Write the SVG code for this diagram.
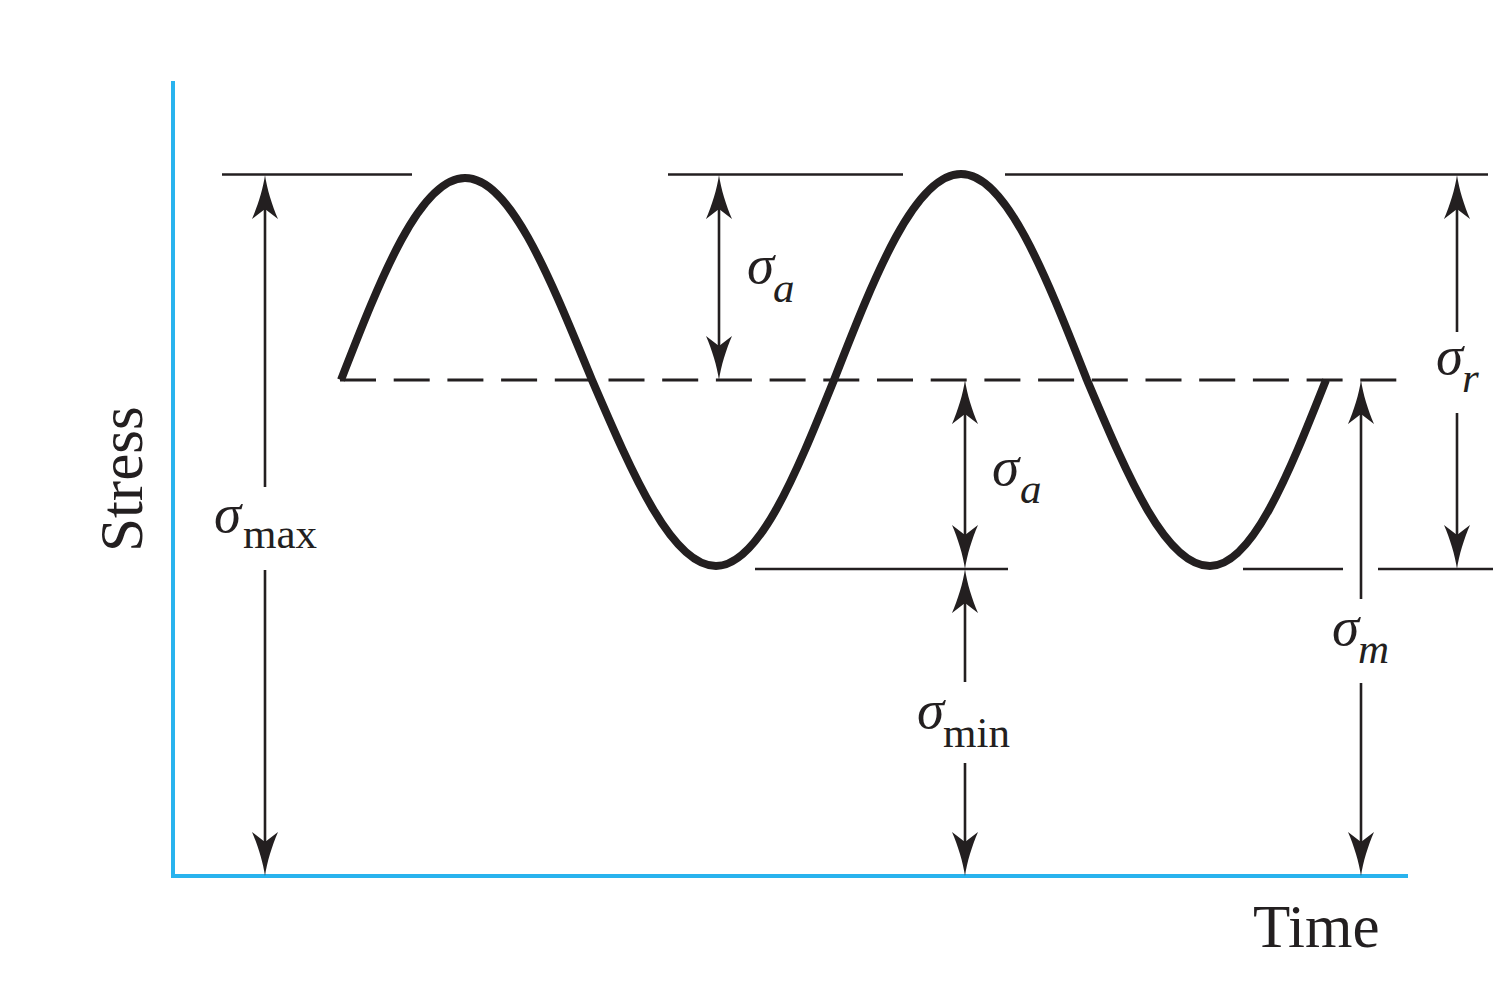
<svg xmlns="http://www.w3.org/2000/svg" xmlns:xlink="http://www.w3.org/1999/xlink" width="1495" height="1000" viewBox="0 0 1495 1000">
<style>
.axis{stroke:#29b3ee;stroke-width:4;fill:none}
.thin{stroke:#231f20;stroke-width:2.6;fill:none}
.dash{stroke:#231f20;stroke-width:3;fill:none;stroke-dasharray:36 17.7}
.wave{stroke:#231f20;stroke-width:8;fill:none;stroke-linecap:butt}
.lbl{font-family:"Liberation Serif","Times New Roman",serif;fill:#231f20}
.sig{font-style:italic;font-size:55px}
.sub{font-size:43px}
.subi{font-size:43px;font-style:italic}
.ax{font-size:61px}
.ah{fill:#231f20}
</style>
<defs>
<path id="ah" class="ah" d="M0,0 C-2,14 -7,30 -13,44 L0,34 L13,44 C7,30 2,14 0,0 Z"/>
</defs>
<rect width="1495" height="1000" fill="#ffffff"/>
<g id="axes">
<line class="axis" x1="173" y1="81" x2="173" y2="878"/>
<line class="axis" x1="171" y1="876" x2="1408" y2="876"/>
</g>
<g id="levels">
<line class="thin" x1="222" y1="174.5" x2="412" y2="174.5"/>
<line class="thin" x1="668" y1="174.5" x2="903" y2="174.5"/>
<line class="thin" x1="1005" y1="174.5" x2="1488" y2="174.5"/>
<line class="thin" x1="755" y1="569" x2="1008" y2="569"/>
<line class="thin" x1="1243" y1="569" x2="1343" y2="569"/>
<line class="thin" x1="1378" y1="569" x2="1493" y2="569"/>
<line class="dash" x1="340" y1="380" x2="1397" y2="380"/>
</g>
<g id="wave">
<path class="wave" d="M341,380 C381.4,276 420.1,178 465,178 C510.2,178 549.2,276 592,380 C633,475.3 672,566 716,566 C758.7,566 795.5,475.3 834,380 C875.4,274 915.1,174 961,174 C1006.2,174 1045.2,274 1087,380 C1127.4,475.3 1165.1,566 1210,566 C1252,566 1288.2,475.3 1326,380"/>
</g>
<g id="connectors">
<line class="thin" x1="265" y1="200" x2="265" y2="487"/>
<line class="thin" x1="265" y1="570" x2="265" y2="850"/>
<use xlink:href="#ah" transform="translate(265,175)"/>
<use xlink:href="#ah" transform="translate(265,876) rotate(180)"/>
<line class="thin" x1="719" y1="200" x2="719" y2="356"/>
<use xlink:href="#ah" transform="translate(719,175)"/>
<use xlink:href="#ah" transform="translate(719,380) rotate(180)"/>
<line class="thin" x1="965" y1="405" x2="965" y2="545"/>
<use xlink:href="#ah" transform="translate(965,380)"/>
<use xlink:href="#ah" transform="translate(965,569) rotate(180)"/>
<line class="thin" x1="965" y1="595" x2="965" y2="682"/>
<line class="thin" x1="965" y1="763" x2="965" y2="850"/>
<use xlink:href="#ah" transform="translate(965,569)"/>
<use xlink:href="#ah" transform="translate(965,876) rotate(180)"/>
<line class="thin" x1="1361" y1="405" x2="1361" y2="599"/>
<line class="thin" x1="1361" y1="683" x2="1361" y2="850"/>
<use xlink:href="#ah" transform="translate(1361,380)"/>
<use xlink:href="#ah" transform="translate(1361,876) rotate(180)"/>
<line class="thin" x1="1457" y1="200" x2="1457" y2="332"/>
<line class="thin" x1="1457" y1="413" x2="1457" y2="545"/>
<use xlink:href="#ah" transform="translate(1457,175)"/>
<use xlink:href="#ah" transform="translate(1457,569) rotate(180)"/>
</g>
<g id="labels">
<text class="lbl"><tspan class="sig" x="214" y="532">σ</tspan><tspan class="sub" x="243" y="548">max</tspan></text>
<text class="lbl"><tspan class="sig" x="747" y="283">σ</tspan><tspan class="subi" x="773" y="302">a</tspan></text>
<text class="lbl"><tspan class="sig" x="992" y="485">σ</tspan><tspan class="subi" x="1020" y="503">a</tspan></text>
<text class="lbl"><tspan class="sig" x="917" y="728">σ</tspan><tspan class="sub" x="943" y="747">min</tspan></text>
<text class="lbl"><tspan class="sig" x="1332" y="645">σ</tspan><tspan class="subi" x="1358" y="663">m</tspan></text>
<text class="lbl"><tspan class="sig" x="1436" y="374">σ</tspan><tspan class="subi" x="1462" y="392">r</tspan></text>
<text class="lbl ax" x="1253" y="947">Time</text>
<text class="lbl ax" transform="translate(142,552) rotate(-90)">Stress</text>
</g>
</svg>
